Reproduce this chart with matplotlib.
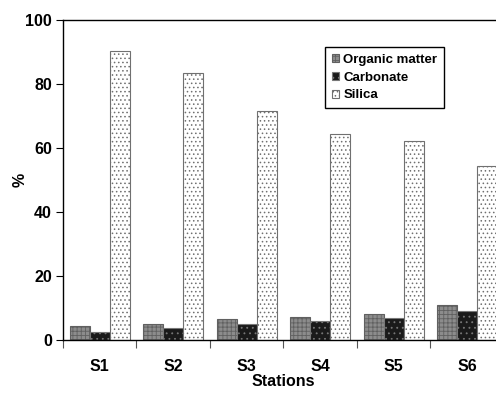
import matplotlib
matplotlib.use('Agg')
import matplotlib.pyplot as plt
import numpy as np

stations = ['S1', 'S2', 'S3', 'S4', 'S5', 'S6']
organic = [4.5, 5.0, 6.7, 7.3, 8.0, 10.9]
carbonate = [2.5, 3.8, 5.0, 5.8, 7.0, 9.2]
silica = [90.3, 83.4, 71.5, 64.5, 62.2, 54.4]

plt.rcParams['font.family'] = ['Liberation Sans', 'DejaVu Sans']
plt.rcParams['font.weight'] = 'bold'
plt.rcParams['hatch.linewidth'] = 0.6

fig = plt.figure(figsize=(4.96, 3.93), dpi=100)
ax = fig.add_axes([0.127, 0.135, 0.889, 0.814])

x = np.arange(len(stations)) + 0.5
w = 0.273

ax.bar(x - w, organic, w, color='#8c8c8c', edgecolor='#606060', hatch='++++',
       linewidth=0.8, label='Organic matter')
ax.bar(x, carbonate, w, color='#1a1a1a', edgecolor='#777777', hatch='...',
       linewidth=0.8, label='Carbonate')
ax.bar(x + w, silica, w, color='white', edgecolor='#707070', hatch='....',
       linewidth=0.8, label='Silica')

ax.set_xlim(0, 6)
ax.set_ylim(0, 100)
ax.set_yticks([0, 20, 40, 60, 80, 100])
ax.set_xticks(np.arange(0, 7))
ax.set_xticklabels([])
ax.set_xticks(x, minor=True)
ax.set_xticklabels(stations, minor=True)
ax.tick_params(axis='x', which='minor', length=0, pad=14, labelsize=11.5)
ax.tick_params(axis='x', which='major', length=6, color='#555555')
ax.tick_params(axis='y', labelsize=11.5, length=5, pad=3)

ax.spines['right'].set_visible(False)
for s in ['left', 'top', 'bottom']:
    ax.spines[s].set_linewidth(1.0)

ax.set_xlabel('Stations', fontsize=11.5, fontweight='bold', labelpad=0)
ax.set_ylabel('%', fontsize=11.5, fontweight='bold', labelpad=-2)

ax.legend(loc='upper right', bbox_to_anchor=(444 / 496, 1 - 47 / 393),
          bbox_transform=fig.transFigure, fancybox=False,
          framealpha=1, edgecolor='black', handlelength=0.6, handleheight=0.6,
          handletextpad=0.3, borderpad=0.5, borderaxespad=0,
          labelspacing=0.45, prop={'weight': 'bold', 'size': 9.5})

fig.savefig('out.png', dpi=100)
